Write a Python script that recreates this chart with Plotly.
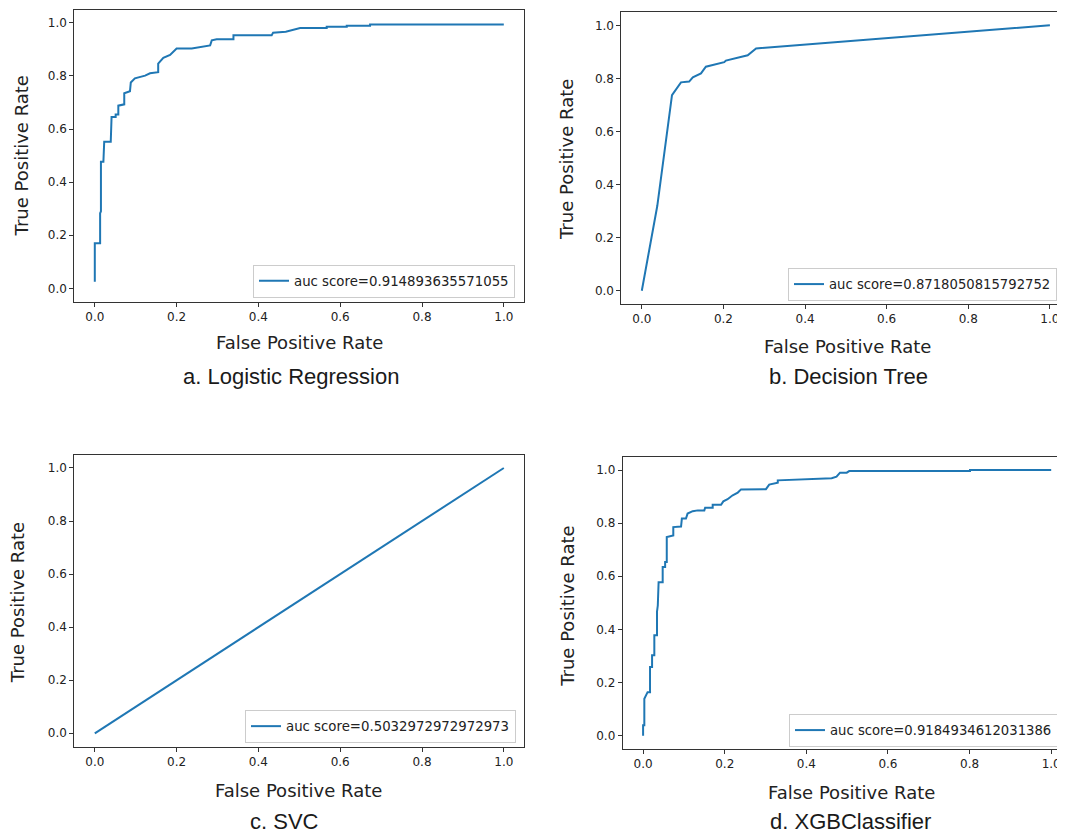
import plotly.graph_objects as go

# The page body adds an 8px margin around the figure; the figure is sized and
# laid out so that the picture lines up with the 1065x836 window.
PAGE_W, PAGE_H = 1065, 836
OFF = 8
W, H = PAGE_W - OFF, PAGE_H - OFF

# ---------------- data ----------------
lr_fpr = [0.0, 0.0, 0.013, 0.013, 0.015, 0.015, 0.021, 0.023, 0.039, 0.040, 0.041, 0.051, 0.051,
          0.0575, 0.0575, 0.072, 0.072, 0.086, 0.088, 0.098, 0.110, 0.123, 0.135, 0.155, 0.155,
          0.1675, 0.184, 0.200, 0.237, 0.259, 0.282, 0.286, 0.298, 0.339, 0.339, 0.4325, 0.436,
          0.467, 0.485, 0.502, 0.567, 0.567, 0.616, 0.616, 0.673, 0.673, 1.0]
lr_tpr = [0.025, 0.170, 0.170, 0.283, 0.290, 0.477, 0.477, 0.552, 0.552, 0.590, 0.645, 0.645, 0.655,
          0.655, 0.688, 0.693, 0.735, 0.742, 0.775, 0.791, 0.797, 0.801, 0.810, 0.814, 0.846,
          0.868, 0.879, 0.903, 0.903, 0.909, 0.915, 0.934, 0.938, 0.938, 0.953, 0.953, 0.963,
          0.966, 0.973, 0.980, 0.980, 0.985, 0.985, 0.989, 0.989, 0.994, 0.994]

dt_fpr = [0.0, 0.038, 0.074, 0.096, 0.116, 0.125, 0.145, 0.157, 0.202, 0.206, 0.2595, 0.280, 1.0]
dt_tpr = [0.0, 0.320, 0.737, 0.785, 0.788, 0.804, 0.819, 0.844, 0.861, 0.867, 0.887, 0.913, 1.0]

svc_fpr = [0.0, 1.0]
svc_tpr = [0.0, 1.0]

xgb_fpr = [0.0, 0.0, 0.003, 0.003, 0.011, 0.017, 0.017, 0.022, 0.022, 0.0275, 0.0275, 0.034, 0.034,
           0.036, 0.038, 0.048, 0.048, 0.054, 0.054, 0.058, 0.058, 0.074, 0.074, 0.093, 0.095,
           0.105, 0.109, 0.1215, 0.134, 0.150, 0.152, 0.1705, 0.1705, 0.191, 0.1966, 0.207,
           0.2195, 0.232, 0.240, 0.301, 0.309, 0.330, 0.330, 0.399, 0.462, 0.474, 0.4825, 0.499,
           0.505, 0.801, 0.801, 1.0]
xgb_tpr = [0.0, 0.039, 0.039, 0.139, 0.164, 0.164, 0.259, 0.259, 0.303, 0.303, 0.378, 0.378, 0.466,
           0.490, 0.578, 0.578, 0.635, 0.635, 0.654, 0.654, 0.748, 0.754, 0.785, 0.787, 0.817,
           0.817, 0.836, 0.845, 0.848, 0.848, 0.858, 0.858, 0.869, 0.869, 0.882, 0.890,
           0.905, 0.915, 0.927, 0.928, 0.945, 0.952, 0.961, 0.965, 0.969, 0.975, 0.990, 0.990,
           0.996, 0.996, 1.0, 1.0]

legend_labels = ["auc score=0.914893635571055", "auc score=0.8718050815792752",
                 "auc score=0.5032972972972973", "auc score=0.9184934612031386"]
panel_titles = ["a. Logistic Regression", "b. Decision Tree", "c. SVC", "d. XGBClassifier"]
x_title = "False Positive Rate"
y_title = "True Positive Rate"
tick_vals = [0.0, 0.2, 0.4, 0.6, 0.8, 1.0]
tick_text = ["0.0", "0.2", "0.4", "0.6", "0.8", "1.0"]

series = [(lr_fpr, lr_tpr), (dt_fpr, dt_tpr), (svc_fpr, svc_tpr), (xgb_fpr, xgb_tpr)]

# ---------------- layout geometry (window pixels) ----------------
geo = [
    dict(x0=94.8, x1=503.8, y0=288.4, y1=22.8),
    dict(x0=641.8, x1=1049.9, y0=290.7, y1=25.3),
    dict(x0=94.8, x1=503.8, y0=733.3, y1=468.0),
    dict(x0=643.1, x1=1051.2, y0=735.7, y1=470.0),
]
legend_pos = [(253, 264.5), (788, 268), (245, 710), (789, 714)]
legend_font = [13.3, 13.2, 13.3, 13.2]
xt_pos = [(299.4, 342.7), (847.0, 346.7), (298.3, 790.0), (851.3, 792.3)]
yt_pos = [(21.4, 156.0), (566.0, 160.0), (17.2, 603.0), (566.8, 606.0)]
title_pos = [(290.5, 376.7), (848.3, 376.7), (284.6, 821.0), (850.5, 821.0)]

LINE = "#1f77b4"
TXT = "#222222"
FONT = "DejaVu Sans"


def fx_(p):
    return (p - OFF) / W


def fy_(p):
    return (H - (p - OFF)) / H


fig = go.Figure()
annotations = []
layout_updates = {}

for i, ((fx, fy), g) in enumerate(zip(series, geo)):
    n = "" if i == 0 else str(i + 1)
    xs = g["x1"] - g["x0"]
    ys = g["y0"] - g["y1"]
    left = g["x0"] - 0.05 * xs
    right = g["x0"] + 1.05 * xs
    xmax = 1.05
    if right > PAGE_W:
        right = PAGE_W
        xmax = (PAGE_W - g["x0"]) / xs
    bottom = g["y0"] + 0.05 * ys
    top = g["y1"] - 0.05 * ys

    leg = "legend" if i == 0 else f"legend{i + 1}"
    fig.add_trace(go.Scatter(
        x=fx, y=fy, mode="lines", name=legend_labels[i],
        line=dict(color=LINE, width=2),
        xaxis="x" + n, yaxis="y" + n, legend=leg, showlegend=True,
    ))

    axis_common = dict(
        showline=True, linecolor="#333333", linewidth=1, mirror=True,
        ticks="outside", ticklen=4, tickwidth=1, tickcolor="#333333",
        tickvals=tick_vals, ticktext=tick_text,
        tickfont=dict(family=FONT, size=12, color=TXT),
        showgrid=False, zeroline=False, fixedrange=True,
    )
    layout_updates["xaxis" + n] = dict(
        axis_common, domain=[fx_(left), min(1.0, fx_(right))], range=[-0.05, xmax],
        anchor="y" + n,
    )
    layout_updates["yaxis" + n] = dict(
        axis_common, domain=[fy_(bottom), fy_(top)], range=[-0.05, 1.05],
        anchor="x" + n,
    )
    lx, ly = legend_pos[i]
    layout_updates[leg] = dict(
        x=fx_(lx), y=fy_(ly), xanchor="left", yanchor="top",
        xref="paper", yref="paper",
        bgcolor="white", bordercolor="#cccccc", borderwidth=1,
        font=dict(family=FONT, size=legend_font[i], color=TXT),
    )

    tx, ty = xt_pos[i]
    annotations.append(dict(text=x_title, x=fx_(tx), y=fy_(ty), xref="paper", yref="paper",
                            showarrow=False, xanchor="center", yanchor="middle",
                            font=dict(family=FONT, size=18, color=TXT)))
    tx, ty = yt_pos[i]
    annotations.append(dict(text=y_title, x=fx_(tx), y=fy_(ty), xref="paper", yref="paper",
                            showarrow=False, xanchor="center", yanchor="middle", textangle=-90,
                            font=dict(family=FONT, size=18, color=TXT)))
    tx, ty = title_pos[i]
    annotations.append(dict(text=panel_titles[i], x=fx_(tx), y=fy_(ty), xref="paper", yref="paper",
                            showarrow=False, xanchor="center", yanchor="middle",
                            font=dict(family="Liberation Sans, Arial", size=22, color="#1a1a1a")))

fig.update_layout(
    width=W, height=H, autosize=False,
    margin=dict(l=0, r=0, t=0, b=0),
    paper_bgcolor="white", plot_bgcolor="white",
    annotations=annotations,
    **layout_updates,
)

fig.write_html("out.html")
